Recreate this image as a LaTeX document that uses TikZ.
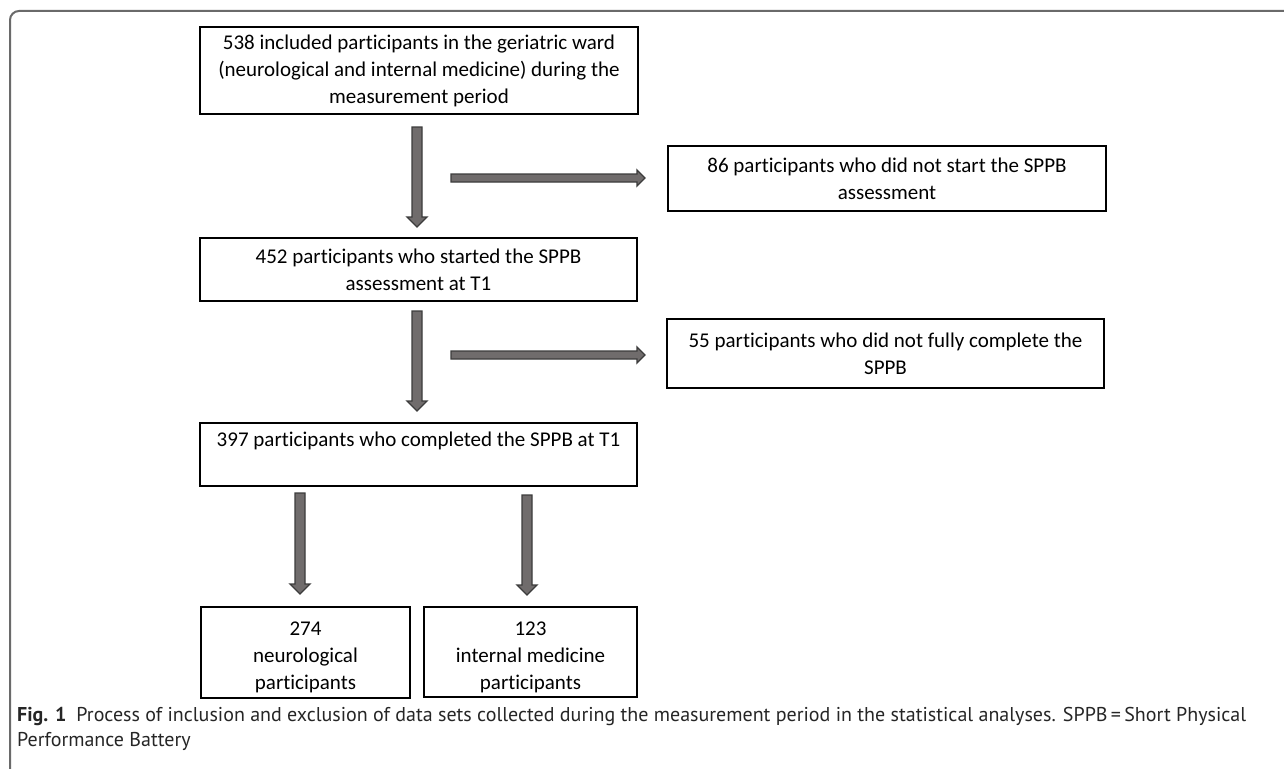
\documentclass[tikz,border=0pt]{standalone}
\usepackage{fontspec}
\setmainfont{Carlito}[Ligatures=NoCommon]
\newfontfamily\capfont{PT Sans}
\usetikzlibrary{calc}
\definecolor{arrowfill}{HTML}{706C6C}
\definecolor{arrowline}{HTML}{3C3C3C}
\definecolor{framecol}{HTML}{6A6A6A}
\definecolor{captext}{HTML}{262626}
\tikzset{
  box/.style={draw=black, line width=1.1pt, align=center, inner sep=0pt,
    font=\fontsize{21}{27}\selectfont},
  blockarrow/.style={fill=arrowfill, draw=arrowline, line width=1.3pt, line join=miter},
}
\newcommand\myvarrow[2]{%
  \draw[blockarrow] let \p1=(#1), \p2=(#2) in
    (\x1-5pt,\y1) -- (\x1+5pt,\y1) -- (\x1+5pt,\y2+10pt) -- (\x1+10pt,\y2+10pt)
    -- (\x2,\y2) -- (\x1-10pt,\y2+10pt) -- (\x1-5pt,\y2+10pt) -- cycle;}
\newcommand\myharrow[2]{%
  \draw[blockarrow] let \p1=(#1), \p2=(#2) in
    (\x1,\y1-4pt) -- (\x1,\y1+4pt) -- (\x2-8pt,\y1+4pt) -- (\x2-8pt,\y1+8pt)
    -- (\x2,\y2) -- (\x2-8pt,\y1-8pt) -- (\x2-8pt,\y1-4pt) -- cycle;}
\begin{document}
\begin{tikzpicture}[x=1pt,y=-1pt]
\useasboundingbox (0,0) rectangle (1284,768);
\fill[white] (0,0) rectangle (1284,768);
% frame
\draw[framecol, line width=2pt, rounded corners=9pt] (1300,11) -- (10,11) -- (10,778) -- (30,778);
% boxes
\node[box, minimum width=438pt, minimum height=87pt] (b1) at (419,70.5)
  {538 included participants in the geriatric ward\\(neurological and internal medicine) during the\\measurement period};
\node[box, minimum width=438pt, minimum height=65pt] (b2) at (887,178.5)
  {86 participants who did not start the SPPB\\assessment};
\node[box, minimum width=437pt, minimum height=63pt] (b3) at (418.5,269.5)
  {452 participants who started the SPPB\\assessment at T1};
\node[box, minimum width=437pt, minimum height=69pt] (b4) at (885.5,353.5)
  {55 participants who did not fully complete the\\SPPB};
\node[box, minimum width=437pt, minimum height=63pt] (b5) at (418.5,454.5)
  {\rule{0pt}{19pt}397 participants who completed the SPPB at T1\\\strut};
\node[box, minimum width=209pt, minimum height=91pt] (b6) at (305.5,652.5)
  {\rule{0pt}{24pt}274\\neurological\\participants};
\node[box, minimum width=213pt, minimum height=90pt] (b7) at (530.5,652)
  {\rule{0pt}{24pt}123\\internal medicine\\participants};
% arrow ends
\coordinate (a1s) at (417,127); \coordinate (a1e) at (417,227);
\coordinate (a2s) at (417,311); \coordinate (a2e) at (417,411);
\coordinate (a3s) at (300,493); \coordinate (a3e) at (300,594);
\coordinate (a4s) at (527,495); \coordinate (a4e) at (527,595);
\coordinate (h1s) at (451,178); \coordinate (h1e) at (645,178);
\coordinate (h2s) at (451,355); \coordinate (h2e) at (645,355);
\myvarrow{a1s}{a1e}
\myvarrow{a2s}{a2e}
\myvarrow{a3s}{a3e}
\myvarrow{a4s}{a4e}
\myharrow{h1s}{h1e}
\myharrow{h2s}{h2e}
% caption
\node[anchor=base west, inner sep=0pt, align=left, text=captext, font=\capfont\fontsize{20}{25}\selectfont] (cap) at (17,746)
  {\textbf{Fig. 1}\hspace{0.5em}Process of inclusion and exclusion of data sets collected during the measurement period in the statistical analyses. SPPB\,=\,Short Physical\\Performance Battery};
\end{tikzpicture}
\end{document}
